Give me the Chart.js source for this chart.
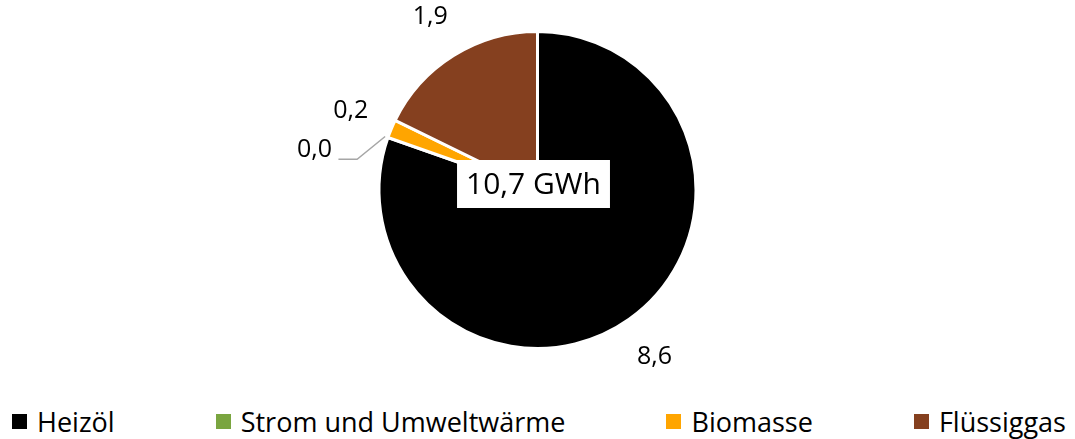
<!DOCTYPE html>
<html>
<head>
<meta charset="utf-8">
<script src="https://cdn.jsdelivr.net/npm/chart.js@4"></script>
<style>
  body { margin: 0; background: #fff; font-family: "Open Sans", sans-serif; }
  #wrap { width: 1075px; height: 439px; position: relative; }
  #legend {
    position: absolute; left: 12px; right: 9px; top: 402px; height: 38px;
    display: flex; justify-content: space-between; align-items: center;
    font-size: 27px; color: #000;
  }
  #legend span.item { display: flex; align-items: center; white-space: nowrap; }
  #legend span.box { width: 15px; height: 15px; margin-right: 10px; display: inline-block; }
</style>
</head>
<body>
<div id="wrap">
  <canvas id="pie" width="1075" height="395"></canvas>
  <div id="legend"></div>
</div>
<script>
const categories = ["Heizöl", "Strom und Umweltwärme", "Biomasse", "Flüssiggas"];
const values = [8.6, 0.0, 0.2, 1.9];
const valueLabels = ["8,6", "0,0", "0,2", "1,9"];
const colors = ["#000000", "#7AA540", "#FFA500", "#85401F"];
const totalLabel = "10,7 GWh";

// legend as html, spread over full width
const legend = document.getElementById("legend");
categories.forEach((name, i) => {
  const item = document.createElement("span");
  item.className = "item";
  item.innerHTML = '<span class="box" style="background:' + colors[i] + '"></span>' + name;
  legend.appendChild(item);
});

// value labels outside the slices + total in the middle
const labelPlugin = {
  id: "pieLabels",
  afterDatasetsDraw(chart) {
    const ctx = chart.ctx;
    const arcs = chart.getDatasetMeta(0).data;
    ctx.save();
    ctx.font = '25px "Open Sans"';
    ctx.textAlign = "center";
    ctx.textBaseline = "middle";
    arcs.forEach((arc, i) => {
      const mid = (arc.startAngle + arc.endAngle) / 2;
      const r = arc.outerRadius;
      let x = arc.x + Math.cos(mid) * (r + 44);
      let y = arc.y + Math.sin(mid) * (r + 46);
      if (values[i] === 0) {
        // pushed aside with a leader line like the original
        x -= 32; y += 28;
        const ex = arc.x + Math.cos(mid) * (r + 3);
        const ey = arc.y + Math.sin(mid) * (r + 3);
        ctx.strokeStyle = "#A6A6A6";
        ctx.lineWidth = 1.5;
        ctx.beginPath();
        ctx.moveTo(ex, ey);
        ctx.lineTo(ex - 28, y + 9);
        ctx.lineTo(x + 24, y + 9);
        ctx.stroke();
      }
      ctx.fillStyle = "#000";
      ctx.fillText(valueLabels[i], x, y);
    });
    // total box
    const cx = arcs[0].x - 4, cy = arcs[0].y - 6;
    ctx.font = '30px "Open Sans"';
    const w = ctx.measureText(totalLabel).width + 18;
    const h = 48;
    ctx.fillStyle = "#fff";
    ctx.fillRect(cx - w / 2, cy - h / 2, w, h);
    ctx.fillStyle = "#000";
    ctx.fillText(totalLabel, cx, cy + 1);
    ctx.restore();
  }
};

new Chart(document.getElementById("pie"), {
  type: "pie",
  data: {
    labels: categories,
    datasets: [{
      data: values,
      backgroundColor: colors,
      borderColor: "#ffffff",
      borderWidth: 3
    }]
  },
  options: {
    responsive: false,
    animation: false,
    layout: { padding: { top: 30, bottom: 45 } },
    plugins: {
      legend: { display: false },
      tooltip: { enabled: false }
    }
  },
  plugins: [labelPlugin]
});
</script>
</body>
</html>
